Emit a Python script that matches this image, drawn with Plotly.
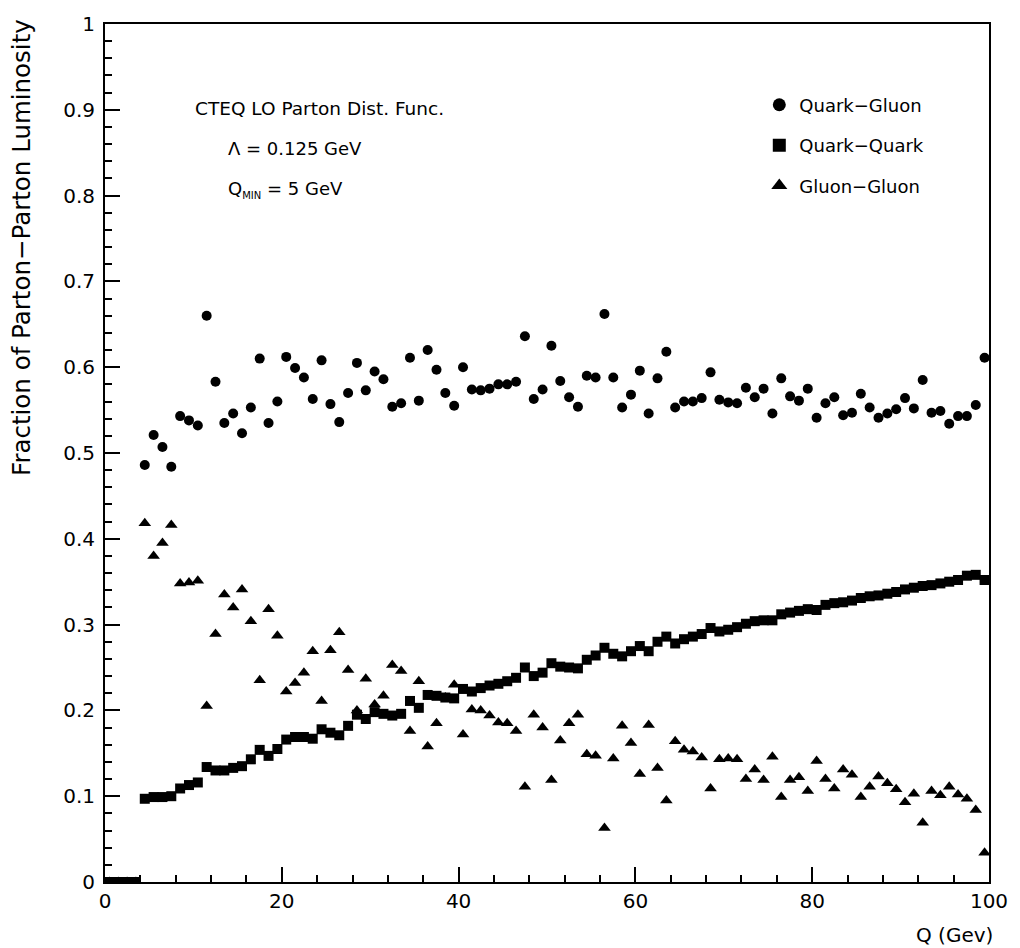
import plotly.graph_objects as go

# Bin centres of Q (GeV), bins of width 1 from 0 to 100
q_centers = [0.5, 1.5, 2.5, 3.5, 4.5, 5.5, 6.5, 7.5, 8.5, 9.5,
             10.5, 11.5, 12.5, 13.5, 14.5, 15.5, 16.5, 17.5, 18.5, 19.5,
             20.5, 21.5, 22.5, 23.5, 24.5, 25.5, 26.5, 27.5, 28.5, 29.5,
             30.5, 31.5, 32.5, 33.5, 34.5, 35.5, 36.5, 37.5, 38.5, 39.5,
             40.5, 41.5, 42.5, 43.5, 44.5, 45.5, 46.5, 47.5, 48.5, 49.5,
             50.5, 51.5, 52.5, 53.5, 54.5, 55.5, 56.5, 57.5, 58.5, 59.5,
             60.5, 61.5, 62.5, 63.5, 64.5, 65.5, 66.5, 67.5, 68.5, 69.5,
             70.5, 71.5, 72.5, 73.5, 74.5, 75.5, 76.5, 77.5, 78.5, 79.5,
             80.5, 81.5, 82.5, 83.5, 84.5, 85.5, 86.5, 87.5, 88.5, 89.5,
             90.5, 91.5, 92.5, 93.5, 94.5, 95.5, 96.5, 97.5, 98.5, 99.5]

quark_gluon = [0, 0, 0, 0, 0.486,
               0.521, 0.507, 0.484, 0.543, 0.538, 0.532, 0.660, 0.583, 0.535, 0.546,
               0.523, 0.553, 0.610, 0.535, 0.560, 0.612, 0.599, 0.588, 0.563, 0.608,
               0.557, 0.536, 0.570, 0.605, 0.573, 0.595, 0.586, 0.554, 0.558, 0.611,
               0.561, 0.620, 0.597, 0.570, 0.555, 0.600, 0.574, 0.573, 0.575, 0.580,
               0.580, 0.583, 0.636, 0.563, 0.574, 0.625, 0.584, 0.565, 0.554, 0.590,
               0.588, 0.662, 0.588, 0.553, 0.568, 0.596, 0.546, 0.587, 0.618, 0.553,
               0.560, 0.560, 0.564, 0.594, 0.562, 0.559, 0.558, 0.576, 0.565, 0.575,
               0.546, 0.587, 0.566, 0.561, 0.575, 0.541, 0.558, 0.565, 0.544, 0.547,
               0.569, 0.553, 0.541, 0.546, 0.551, 0.564, 0.552, 0.585, 0.547, 0.549,
               0.534, 0.543, 0.543, 0.556, 0.611]

quark_quark = [0, 0, 0, 0, 0.097,
               0.099, 0.099, 0.100, 0.109, 0.113, 0.116, 0.134, 0.130, 0.130, 0.133,
               0.135, 0.143, 0.154, 0.147, 0.155, 0.166, 0.169, 0.169, 0.167, 0.178,
               0.174, 0.171, 0.182, 0.195, 0.190, 0.198, 0.196, 0.194, 0.196, 0.211,
               0.203, 0.218, 0.217, 0.215, 0.214, 0.225, 0.222, 0.226, 0.229, 0.231,
               0.234, 0.238, 0.250, 0.240, 0.244, 0.255, 0.251, 0.250, 0.249, 0.259,
               0.264, 0.273, 0.266, 0.263, 0.269, 0.275, 0.269, 0.280, 0.286, 0.278,
               0.283, 0.286, 0.289, 0.296, 0.292, 0.294, 0.297, 0.301, 0.304, 0.305,
               0.305, 0.312, 0.314, 0.316, 0.318, 0.317, 0.323, 0.325, 0.326, 0.328,
               0.331, 0.333, 0.334, 0.336, 0.338, 0.341, 0.343, 0.345, 0.346, 0.348,
               0.350, 0.352, 0.357, 0.358, 0.352]

gluon_gluon = [0, 0, 0, 0, 0.418,
               0.380, 0.395, 0.416, 0.348, 0.349, 0.351, 0.205, 0.289, 0.335, 0.320,
               0.341, 0.304, 0.235, 0.318, 0.287, 0.222, 0.232, 0.244, 0.269, 0.211,
               0.270, 0.291, 0.247, 0.200, 0.237, 0.207, 0.217, 0.253, 0.246, 0.176,
               0.234, 0.158, 0.185, 0.215, 0.230, 0.172, 0.201, 0.200, 0.194, 0.186,
               0.185, 0.176, 0.111, 0.195, 0.180, 0.119, 0.165, 0.185, 0.195, 0.149,
               0.147, 0.063, 0.144, 0.182, 0.162, 0.126, 0.183, 0.133, 0.095, 0.164,
               0.154, 0.152, 0.145, 0.109, 0.143, 0.144, 0.143, 0.120, 0.131, 0.119,
               0.146, 0.099, 0.119, 0.122, 0.106, 0.141, 0.120, 0.109, 0.131, 0.125,
               0.099, 0.111, 0.123, 0.115, 0.108, 0.093, 0.103, 0.069, 0.106, 0.101,
               0.111, 0.102, 0.097, 0.084, 0.034]

x_ticks = [0, 20, 40, 60, 80, 100]
series_names = ["Quark\u2212Gluon", "Quark\u2212Quark", "Gluon\u2212Gluon"]

FONT = "DejaVu Sans"
W, H = 1020, 948
ML, MR, MT, MB = 105, 26, 18, 66

SYMBOLS = {"Quark\u2212Gluon": ("circle", 10), "Quark\u2212Quark": ("square", 10),
           "Gluon\u2212Gluon": ("triangle-up", 11)}

fig = go.Figure()
# data traces (drawn: circles, triangles, then squares on top)
for name, yvals in [(series_names[0], quark_gluon), (series_names[2], gluon_gluon),
                    (series_names[1], quark_quark)]:
    sym, sz = SYMBOLS[name]
    fig.add_trace(go.Scatter(x=q_centers, y=yvals, mode="markers", name=name, showlegend=False,
                             marker=dict(symbol=sym, size=sz, color="black", line=dict(width=0))))
# legend entries (larger symbols, as in the original key)
for i, name in enumerate(series_names):
    sym, _ = SYMBOLS[name]
    fig.add_trace(go.Scatter(x=[None], y=[None], mode="markers", name=name,
                             legendgroup=name, legendrank=i + 1,
                             marker=dict(symbol=sym, size=13 if sym != "triangle-up" else 14,
                                         color="black", line=dict(width=0))))

axis_common = dict(
    showgrid=False, zeroline=False, showline=True, linewidth=2, linecolor="black",
    mirror=True, ticks="inside", ticklen=15, tickwidth=1.5, tickcolor="black",
    tickfont=dict(family=FONT, size=20, color="black"),
)

fig.update_xaxes(range=[0, 100], tickvals=x_ticks,
                 minor=dict(ticks="inside", dtick=4, ticklen=7, tickwidth=1.5, tickcolor="black"),
                 **axis_common)
fig.update_yaxes(range=[0, 1], dtick=0.1, tick0=0,
                 minor=dict(ticks="inside", dtick=0.02, ticklen=7, tickwidth=1.5, tickcolor="black"),
                 ticksuffix="\u2009",
                 **axis_common)

def px_x(px):
    return (px - ML) / (W - ML - MR)

def px_y(py):
    return (H - MB - py) / (H - MT - MB)

annots = [
    dict(text="CTEQ LO Parton Dist. Func.", x=px_x(193), y=px_y(103), xanchor="left", size=18.5),
    dict(text="\u039b = 0.125 GeV", x=px_x(227), y=px_y(143), xanchor="left", size=18),
    dict(text="Q<sub><span style='font-size:10px'>MIN</span></sub> = 5 GeV", x=px_x(227),
         y=px_y(185), xanchor="left", size=18),
    dict(text="Q (Gev)", x=px_x(1000), y=px_y(935), xanchor="right", size=20),
]
for a in annots:
    sz = a.pop("size")
    fig.add_annotation(xref="paper", yref="paper", yanchor="middle", showarrow=False,
                       font=dict(family=FONT, size=sz, color="black"), **a)

fig.add_annotation(text="Fraction of Parton\u2212Parton Luminosity", xref="paper", yref="paper",
                   x=px_x(21), y=px_y(243), xanchor="center", yanchor="middle",
                   textangle=-90, showarrow=False,
                   font=dict(family=FONT, size=24.5, color="black"))

fig.update_layout(
    width=W, height=H,
    margin=dict(l=ML, r=MR, t=MT, b=MB),
    paper_bgcolor="white", plot_bgcolor="white",
    showlegend=True,
    legend=dict(x=px_x(763), y=px_y(81), xanchor="left", yanchor="top",
                bgcolor="rgba(0,0,0,0)", borderwidth=0,
                font=dict(family=FONT, size=18, color="black"),
                traceorder="grouped", tracegroupgap=14, itemsizing="trace"),
)

fig.write_html("out.html")
